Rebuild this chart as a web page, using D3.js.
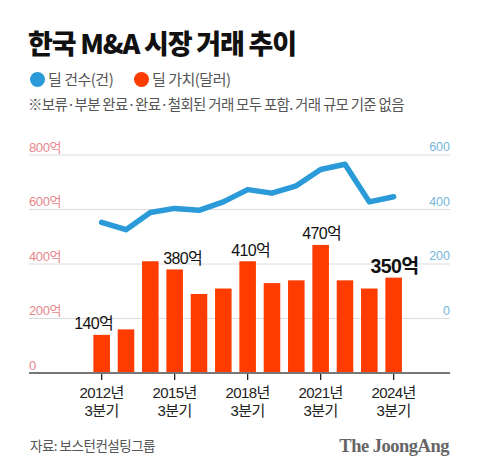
<!DOCTYPE html>
<html><head><meta charset="utf-8">
<script src="https://cdn.jsdelivr.net/npm/d3@7"></script>
<style>
html,body{margin:0;padding:0;background:#fff;}
svg{display:block;}
</style></head>
<body>
<script>
const years = ["2012","2013","2014","2015","2016","2017","2018","2019","2020","2021","2022","2023","2024"];
const dealValue = [140,160,410,380,290,310,410,330,340,470,340,310,350]; // 억 달러
const dealCount = [353,326,389,404,397,428,473,460,487,547,566,428,447]; // 건
const leftTicks = [0,200,400,600,800];
const rightTicks = [0,200,400,600];
const xTickYears = ["2012","2015","2018","2021","2024"];
const valueLabels = [
  {year:"2012", text:"140억"},
  {year:"2015", text:"380억"},
  {year:"2018", text:"410억"},
  {year:"2021", text:"470억"},
  {year:"2024", text:"350억", bold:true}
];

const W = 480, H = 472;
const sans = "'Liberation Sans','Noto Sans CJK KR',sans-serif";
const kr = "'Noto Sans CJK KR','Noto Sans',sans-serif";
const svg = d3.select("body").append("svg").attr("width", W).attr("height", H);

const gx0 = 29, gx1 = 450;
const x = d3.scaleBand().domain(years).range([89.5, 405.8]).paddingInner(0.32).paddingOuter(0.16);
const yL = d3.scaleLinear().domain([0, 800]).range([373, 155]);
const yR = d3.scaleLinear().domain([-200, 600]).range([373, 155]);

// Title
svg.append("text").attr("x", 28).attr("y", 54).text("한국 M&A 시장 거래 추이")
  .attr("font-family", kr).attr("font-weight", 900).attr("font-size", 27)
  .attr("letter-spacing", -1.2).attr("fill", "#111");

// Legend
const leg = [{c:"#2a9ad8", t:"딜 건수(건)", x:37.5},{c:"#ff3c00", t:"딜 가치(달러)", x:141.5}];
leg.forEach(l => {
  svg.append("circle").attr("cx", l.x).attr("cy", 79.5).attr("r", 7.5).attr("fill", l.c);
  svg.append("text").attr("x", l.x + 10.5).attr("y", 85).text(l.t)
    .attr("font-family", kr).attr("font-size", 15).attr("fill", "#555").attr("letter-spacing", -0.5);
});
svg.append("text").attr("x", 28).attr("y", 110).text("※보류·부분 완료·완료·철회된 거래 모두 포함. 거래 규모 기준 없음")
  .attr("font-family", kr).attr("font-size", 14.5).attr("fill", "#555").attr("letter-spacing", -0.7);

// Gridlines
const grid = svg.append("g");
leftTicks.filter(d => d > 0).forEach(d => {
  grid.append("line").attr("x1", gx0).attr("x2", gx1).attr("y1", yL(d)).attr("y2", yL(d))
    .attr("stroke", "#dcdcdc").attr("stroke-width", 1);
});

// Left axis labels
const yAxisL = d3.axisLeft(yL).tickValues(leftTicks).tickFormat(d => d === 0 ? "0" : d + "억").tickSize(0);
const gL = svg.append("g").attr("transform", `translate(${gx0},0)`).call(yAxisL);
gL.select(".domain").remove();
gL.selectAll("text").attr("text-anchor", "start").attr("x", 0).attr("dy", "-0.3em")
  .attr("font-family", sans).attr("font-size", 13).attr("fill", "#e8878c").attr("letter-spacing", -0.4);

// Right axis labels
const yAxisR = d3.axisRight(yR).tickValues(rightTicks).tickSize(0);
const gR = svg.append("g").attr("transform", `translate(${gx1},0)`).call(yAxisR);
gR.select(".domain").remove();
gR.selectAll("text").attr("text-anchor", "end").attr("x", 0).attr("dy", "-0.35em")
  .attr("font-family", sans).attr("font-size", 12.5).attr("fill", "#75b6d8");

// Bars
svg.append("g").selectAll("rect").data(years).join("rect")
  .attr("x", d => x(d)).attr("width", x.bandwidth())
  .attr("y", (d,i) => yL(dealValue[i])).attr("height", (d,i) => yL(0) - yL(dealValue[i]))
  .attr("fill", "#ff3c00");

// Line
const line = d3.line().x((d,i) => x(years[i]) + x.bandwidth()/2).y(d => yR(d));
svg.append("path").datum(dealCount).attr("d", line).attr("fill", "none")
  .attr("stroke", "#2a9ad8").attr("stroke-width", 5.5).attr("stroke-linejoin", "round").attr("stroke-linecap", "round");

// Value labels
const labelDx = {"2012": -8, "2015": 8, "2018": 3, "2021": 1, "2024": 1};
valueLabels.forEach(l => {
  const i = years.indexOf(l.year);
  svg.append("text").attr("x", x(l.year) + x.bandwidth()/2 + labelDx[l.year])
    .attr("y", yL(dealValue[i]) - (l.bold ? 5 : 5.5))
    .attr("text-anchor", "middle").text(l.text)
    .attr("font-family", sans).attr("font-size", l.bold ? 19.5 : 16)
    .attr("font-weight", l.bold ? 700 : 400).attr("letter-spacing", -0.6).attr("fill", "#111");
});

// X axis
const xAxis = d3.axisBottom(x).tickValues(xTickYears).tickSize(7).tickFormat("");
const gX = svg.append("g").attr("transform", `translate(0,${yL(0)})`).call(xAxis);
gX.select(".domain").remove();
gX.selectAll(".tick line").attr("stroke", "#222").attr("stroke-width", 1.3);
svg.append("line").attr("x1", gx0).attr("x2", gx1).attr("y1", yL(0)).attr("y2", yL(0))
  .attr("stroke", "#777").attr("stroke-width", 2);
xTickYears.forEach(yv => {
  const cx = x(yv) + x.bandwidth()/2;
  const t = svg.append("text").attr("text-anchor", "middle").attr("font-family", sans)
    .attr("font-size", 15).attr("fill", "#222").attr("letter-spacing", -0.6);
  t.append("tspan").attr("x", cx).attr("y", 398).text(yv + "년");
  t.append("tspan").attr("x", cx).attr("y", 416).text("3분기");
});

// Footer
svg.append("text").attr("x", 30).attr("y", 451).text("자료: 보스턴컨설팅그룹")
  .attr("font-family", kr).attr("font-size", 13.5).attr("fill", "#555").attr("letter-spacing", -0.5);
svg.append("text").attr("x", 449).attr("y", 452).attr("text-anchor", "end").text("The JoongAng")
  .attr("font-family", "'Liberation Serif','DejaVu Serif',serif").attr("font-weight", 700)
  .attr("font-size", 18.5).attr("fill", "#666").attr("letter-spacing", -0.5);
</script>
</body></html>
